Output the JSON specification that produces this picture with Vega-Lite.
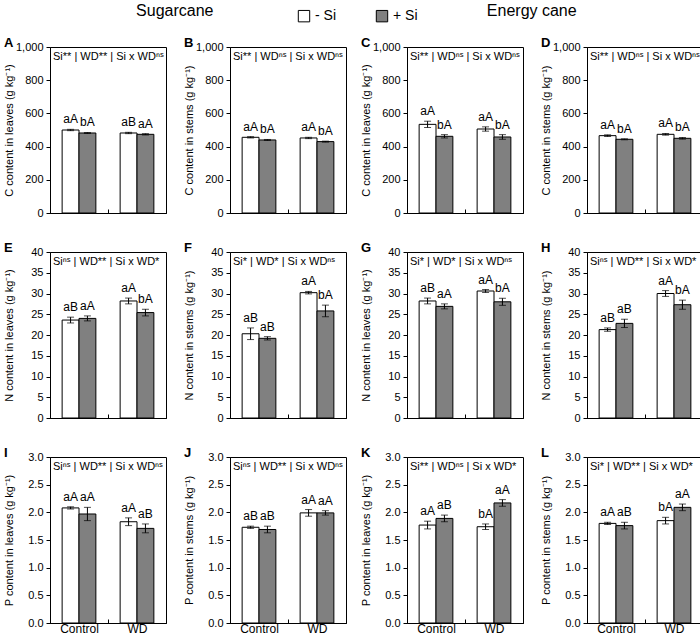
{
  "$schema": "https://vega.github.io/schema/vega-lite/v6.json",
  "padding": {"left": 2, "top": 2, "right": 0, "bottom": 0},
  "config": {
    "font": "Liberation Sans",
    "view": {"stroke": "black", "strokeWidth": 1},
    "scale": {"bandPaddingInner": 0, "bandPaddingOuter": 0, "bandWithNestedOffsetPaddingInner": 0, "bandWithNestedOffsetPaddingOuter": 0, "offsetBandPaddingInner": 0, "offsetBandPaddingOuter": 0.72},
    "axis": {"grid": false, "domainColor": "black", "tickColor": "black", "labelColor": "black", "titleColor": "black", "labelFontSize": 11, "titleFontSize": 11, "titleFontWeight": "normal", "labelOverlap": false},
    "axisY": {"tickSize": 4, "labelPadding": 3, "titleX": -36},
    "axisX": {"tickBand": "extent", "tickSize": -4, "labelAngle": 0, "labelFontSize": 12, "labelPadding": 4, "title": null},
    "legend": {"orient": "none", "legendX": 247, "legendY": -38, "direction": "horizontal", "symbolType": "square", "symbolSize": 130, "symbolStrokeColor": "black", "symbolStrokeWidth": 1, "labelFontSize": 14, "columnPadding": 38, "labelColor": "black"}
  },
  "datasets": {
    "bars": [
      {"panel": "A", "group": "Control", "si": "- Si", "mean": 500, "lo": 496, "hi": 504, "letter": "aA"},
      {"panel": "A", "group": "Control", "si": "+ Si", "mean": 482, "lo": 479, "hi": 485, "letter": "bA"},
      {"panel": "A", "group": "WD", "si": "- Si", "mean": 482, "lo": 478, "hi": 486, "letter": "aB"},
      {"panel": "A", "group": "WD", "si": "+ Si", "mean": 474, "lo": 470, "hi": 478, "letter": "aA"},
      {"panel": "B", "group": "Control", "si": "- Si", "mean": 456, "lo": 452, "hi": 460, "letter": "aA"},
      {"panel": "B", "group": "Control", "si": "+ Si", "mean": 440, "lo": 437, "hi": 443, "letter": "bA"},
      {"panel": "B", "group": "WD", "si": "- Si", "mean": 452, "lo": 448, "hi": 456, "letter": "aA"},
      {"panel": "B", "group": "WD", "si": "+ Si", "mean": 430, "lo": 427, "hi": 433, "letter": "bA"},
      {"panel": "C", "group": "Control", "si": "- Si", "mean": 534, "lo": 515, "hi": 553, "letter": "aA"},
      {"panel": "C", "group": "Control", "si": "+ Si", "mean": 462, "lo": 452, "hi": 472, "letter": "bA"},
      {"panel": "C", "group": "WD", "si": "- Si", "mean": 506, "lo": 493, "hi": 519, "letter": "aA"},
      {"panel": "C", "group": "WD", "si": "+ Si", "mean": 458, "lo": 444, "hi": 472, "letter": "bA"},
      {"panel": "D", "group": "Control", "si": "- Si", "mean": 466, "lo": 461, "hi": 471, "letter": "aA"},
      {"panel": "D", "group": "Control", "si": "+ Si", "mean": 444, "lo": 441, "hi": 447, "letter": "bA"},
      {"panel": "D", "group": "WD", "si": "- Si", "mean": 474, "lo": 469, "hi": 479, "letter": "aA"},
      {"panel": "D", "group": "WD", "si": "+ Si", "mean": 450, "lo": 445, "hi": 455, "letter": "bA"},
      {"panel": "E", "group": "Control", "si": "- Si", "mean": 23.6, "lo": 22.9, "hi": 24.3, "letter": "aB"},
      {"panel": "E", "group": "Control", "si": "+ Si", "mean": 24.0, "lo": 23.4, "hi": 24.6, "letter": "aA"},
      {"panel": "E", "group": "WD", "si": "- Si", "mean": 28.2, "lo": 27.5, "hi": 28.9, "letter": "aA"},
      {"panel": "E", "group": "WD", "si": "+ Si", "mean": 25.4, "lo": 24.6, "hi": 26.2, "letter": "bA"},
      {"panel": "F", "group": "Control", "si": "- Si", "mean": 20.3, "lo": 18.9, "hi": 21.7, "letter": "aB"},
      {"panel": "F", "group": "Control", "si": "+ Si", "mean": 19.2, "lo": 18.8, "hi": 19.6, "letter": "aB"},
      {"panel": "F", "group": "WD", "si": "- Si", "mean": 30.2, "lo": 29.9, "hi": 30.5, "letter": "aA"},
      {"panel": "F", "group": "WD", "si": "+ Si", "mean": 25.8, "lo": 24.4, "hi": 27.2, "letter": "bA"},
      {"panel": "G", "group": "Control", "si": "- Si", "mean": 28.2, "lo": 27.5, "hi": 28.9, "letter": "aB"},
      {"panel": "G", "group": "Control", "si": "+ Si", "mean": 26.9, "lo": 26.3, "hi": 27.5, "letter": "aA"},
      {"panel": "G", "group": "WD", "si": "- Si", "mean": 30.6, "lo": 30.25, "hi": 30.95, "letter": "aA"},
      {"panel": "G", "group": "WD", "si": "+ Si", "mean": 28.0, "lo": 27.15, "hi": 28.85, "letter": "bA"},
      {"panel": "H", "group": "Control", "si": "- Si", "mean": 21.3, "lo": 20.9, "hi": 21.7, "letter": "aB"},
      {"panel": "H", "group": "Control", "si": "+ Si", "mean": 22.8, "lo": 21.8, "hi": 23.8, "letter": "aB"},
      {"panel": "H", "group": "WD", "si": "- Si", "mean": 30.0, "lo": 29.3, "hi": 30.7, "letter": "aA"},
      {"panel": "H", "group": "WD", "si": "+ Si", "mean": 27.3, "lo": 26.2, "hi": 28.4, "letter": "bA"},
      {"panel": "I", "group": "Control", "si": "- Si", "mean": 2.08, "lo": 2.06, "hi": 2.10, "letter": "aA"},
      {"panel": "I", "group": "Control", "si": "+ Si", "mean": 1.97, "lo": 1.85, "hi": 2.09, "letter": "aA"},
      {"panel": "I", "group": "WD", "si": "- Si", "mean": 1.83, "lo": 1.76, "hi": 1.90, "letter": "aA"},
      {"panel": "I", "group": "WD", "si": "+ Si", "mean": 1.71, "lo": 1.63, "hi": 1.79, "letter": "aB"},
      {"panel": "J", "group": "Control", "si": "- Si", "mean": 1.73, "lo": 1.71, "hi": 1.75, "letter": "aB"},
      {"panel": "J", "group": "Control", "si": "+ Si", "mean": 1.69, "lo": 1.63, "hi": 1.75, "letter": "aB"},
      {"panel": "J", "group": "WD", "si": "- Si", "mean": 1.99, "lo": 1.93, "hi": 2.05, "letter": "aA"},
      {"panel": "J", "group": "WD", "si": "+ Si", "mean": 1.99, "lo": 1.95, "hi": 2.03, "letter": "aA"},
      {"panel": "K", "group": "Control", "si": "- Si", "mean": 1.77, "lo": 1.70, "hi": 1.84, "letter": "aA"},
      {"panel": "K", "group": "Control", "si": "+ Si", "mean": 1.89, "lo": 1.83, "hi": 1.95, "letter": "aB"},
      {"panel": "K", "group": "WD", "si": "- Si", "mean": 1.74, "lo": 1.69, "hi": 1.79, "letter": "bA"},
      {"panel": "K", "group": "WD", "si": "+ Si", "mean": 2.17, "lo": 2.11, "hi": 2.23, "letter": "aA"},
      {"panel": "L", "group": "Control", "si": "- Si", "mean": 1.80, "lo": 1.78, "hi": 1.82, "letter": "aA"},
      {"panel": "L", "group": "Control", "si": "+ Si", "mean": 1.76, "lo": 1.70, "hi": 1.82, "letter": "aB"},
      {"panel": "L", "group": "WD", "si": "- Si", "mean": 1.85, "lo": 1.79, "hi": 1.91, "letter": "bA"},
      {"panel": "L", "group": "WD", "si": "+ Si", "mean": 2.09, "lo": 2.03, "hi": 2.15, "letter": "aA"}
    ],
    "notes": [
      {"panel": "A", "note": "Si** | WD** | Si x WDⁿˢ"},
      {"panel": "B", "note": "Si** | WDⁿˢ | Si x WDⁿˢ"},
      {"panel": "C", "note": "Si** | WDⁿˢ | Si x WDⁿˢ"},
      {"panel": "D", "note": "Si** | WDⁿˢ | Si x WDⁿˢ"},
      {"panel": "E", "note": "Siⁿˢ | WD** | Si x WD*"},
      {"panel": "F", "note": "Si* | WD* | Si x WDⁿˢ"},
      {"panel": "G", "note": "Si* | WD* | Si x WDⁿˢ"},
      {"panel": "H", "note": "Siⁿˢ | WD** | Si x WD*"},
      {"panel": "I", "note": "Siⁿˢ | WD** | Si x WDⁿˢ"},
      {"panel": "J", "note": "Siⁿˢ | WD** | Si x WDⁿˢ"},
      {"panel": "K", "note": "Si** | WDⁿˢ | Si x WD*"},
      {"panel": "L", "note": "Si* | WD** | Si x WD*"}
    ]
  },
  "spacing": 12,
  "hconcat": [
    {
      "title": {"text": "Sugarcane", "fontSize": 16, "fontWeight": "normal", "anchor": "middle", "offset": 18},
      "columns": 2,
      "bounds": "flush",
      "spacing": {"row": 39, "column": 64},
      "concat": [
        {
          "title": {"text": "A", "anchor": "start", "frame": "group", "fontSize": 13, "fontWeight": "bold", "dx": -46, "offset": 0, "dy": 9},
          "width": 116, "height": 166,
          "layer": [
            {"data": {"name": "bars"}, "transform": [{"filter": "datum.panel === 'A'"}], "mark": {"type": "bar", "stroke": "black", "strokeWidth": 1},
             "encoding": {"x": {"field": "group", "type": "nominal", "sort": ["Control", "WD"], "axis": {"labels": false}}, "xOffset": {"field": "si", "type": "nominal", "sort": ["- Si", "+ Si"]},
              "y": {"field": "mean", "type": "quantitative", "scale": {"domain": [0, 1000]}, "title": "C content in leaves (g kg⁻¹)", "axis": {"values": [0, 200, 400, 600, 800, 1000], "format": ",d", "labelOverlap": false}},
              "fill": {"field": "si", "type": "nominal", "title": null, "scale": {"domain": ["- Si", "+ Si"], "range": ["white", "#808080"]}}}},
            {"data": {"name": "bars"}, "transform": [{"filter": "datum.panel === 'A'"}], "mark": {"type": "errorbar", "color": "black", "ticks": {"size": 7}},
             "encoding": {"x": {"field": "group", "type": "nominal", "sort": ["Control", "WD"]}, "xOffset": {"field": "si", "type": "nominal", "sort": ["- Si", "+ Si"]}, "y": {"field": "lo", "type": "quantitative", "title": "C content in leaves (g kg⁻¹)", "axis": {"values": [0, 200, 400, 600, 800, 1000], "format": ",d", "labelOverlap": false}}, "y2": {"field": "hi"}}},
            {"data": {"name": "bars"}, "transform": [{"filter": "datum.panel === 'A'"}], "mark": {"type": "text", "baseline": "bottom", "dy": -3, "fontSize": 12},
             "encoding": {"x": {"field": "group", "type": "nominal", "sort": ["Control", "WD"]}, "xOffset": {"field": "si", "type": "nominal", "sort": ["- Si", "+ Si"]}, "y": {"field": "hi", "type": "quantitative", "title": "C content in leaves (g kg⁻¹)", "axis": {"values": [0, 200, 400, 600, 800, 1000], "format": ",d", "labelOverlap": false}}, "text": {"field": "letter"}}},
            {"data": {"name": "notes"}, "transform": [{"filter": "datum.panel === 'A'"}], "mark": {"type": "text", "align": "left", "baseline": "top", "dx": 3, "dy": 4, "fontSize": 11},
             "encoding": {"x": {"datum": "Control", "type": "nominal", "bandPosition": 0}, "y": {"datum": 1000, "type": "quantitative", "title": "C content in leaves (g kg⁻¹)", "axis": {"values": [0, 200, 400, 600, 800, 1000], "format": ",d", "labelOverlap": false}}, "text": {"field": "note"}}}
          ]
        },
        {
          "title": {"text": "B", "anchor": "start", "frame": "group", "fontSize": 13, "fontWeight": "bold", "dx": -46, "offset": 0, "dy": 9},
          "width": 116, "height": 166,
          "layer": [
            {"data": {"name": "bars"}, "transform": [{"filter": "datum.panel === 'B'"}], "mark": {"type": "bar", "stroke": "black", "strokeWidth": 1},
             "encoding": {"x": {"field": "group", "type": "nominal", "sort": ["Control", "WD"], "axis": {"labels": false}}, "xOffset": {"field": "si", "type": "nominal", "sort": ["- Si", "+ Si"]},
              "y": {"field": "mean", "type": "quantitative", "scale": {"domain": [0, 1000]}, "title": "C content in stems (g kg⁻¹)", "axis": {"values": [0, 200, 400, 600, 800, 1000], "format": ",d", "labelOverlap": false}},
              "fill": {"field": "si", "type": "nominal", "title": null, "scale": {"domain": ["- Si", "+ Si"], "range": ["white", "#808080"]}}}},
            {"data": {"name": "bars"}, "transform": [{"filter": "datum.panel === 'B'"}], "mark": {"type": "errorbar", "color": "black", "ticks": {"size": 7}},
             "encoding": {"x": {"field": "group", "type": "nominal", "sort": ["Control", "WD"]}, "xOffset": {"field": "si", "type": "nominal", "sort": ["- Si", "+ Si"]}, "y": {"field": "lo", "type": "quantitative", "title": "C content in stems (g kg⁻¹)", "axis": {"values": [0, 200, 400, 600, 800, 1000], "format": ",d", "labelOverlap": false}}, "y2": {"field": "hi"}}},
            {"data": {"name": "bars"}, "transform": [{"filter": "datum.panel === 'B'"}], "mark": {"type": "text", "baseline": "bottom", "dy": -3, "fontSize": 12},
             "encoding": {"x": {"field": "group", "type": "nominal", "sort": ["Control", "WD"]}, "xOffset": {"field": "si", "type": "nominal", "sort": ["- Si", "+ Si"]}, "y": {"field": "hi", "type": "quantitative", "title": "C content in stems (g kg⁻¹)", "axis": {"values": [0, 200, 400, 600, 800, 1000], "format": ",d", "labelOverlap": false}}, "text": {"field": "letter"}}},
            {"data": {"name": "notes"}, "transform": [{"filter": "datum.panel === 'B'"}], "mark": {"type": "text", "align": "left", "baseline": "top", "dx": 3, "dy": 4, "fontSize": 11},
             "encoding": {"x": {"datum": "Control", "type": "nominal", "bandPosition": 0}, "y": {"datum": 1000, "type": "quantitative", "title": "C content in stems (g kg⁻¹)", "axis": {"values": [0, 200, 400, 600, 800, 1000], "format": ",d", "labelOverlap": false}}, "text": {"field": "note"}}}
          ]
        },
        {
          "title": {"text": "E", "anchor": "start", "frame": "group", "fontSize": 13, "fontWeight": "bold", "dx": -46, "offset": 0, "dy": 9},
          "width": 116, "height": 166,
          "layer": [
            {"data": {"name": "bars"}, "transform": [{"filter": "datum.panel === 'E'"}], "mark": {"type": "bar", "stroke": "black", "strokeWidth": 1},
             "encoding": {"x": {"field": "group", "type": "nominal", "sort": ["Control", "WD"], "axis": {"labels": false}}, "xOffset": {"field": "si", "type": "nominal", "sort": ["- Si", "+ Si"]},
              "y": {"field": "mean", "type": "quantitative", "scale": {"domain": [0, 40]}, "title": "N content in leaves (g kg⁻¹)", "axis": {"values": [0, 5, 10, 15, 20, 25, 30, 35, 40], "format": "d", "labelOverlap": false}},
              "fill": {"field": "si", "type": "nominal", "title": null, "scale": {"domain": ["- Si", "+ Si"], "range": ["white", "#808080"]}}}},
            {"data": {"name": "bars"}, "transform": [{"filter": "datum.panel === 'E'"}], "mark": {"type": "errorbar", "color": "black", "ticks": {"size": 7}},
             "encoding": {"x": {"field": "group", "type": "nominal", "sort": ["Control", "WD"]}, "xOffset": {"field": "si", "type": "nominal", "sort": ["- Si", "+ Si"]}, "y": {"field": "lo", "type": "quantitative", "title": "N content in leaves (g kg⁻¹)", "axis": {"values": [0, 5, 10, 15, 20, 25, 30, 35, 40], "format": "d", "labelOverlap": false}}, "y2": {"field": "hi"}}},
            {"data": {"name": "bars"}, "transform": [{"filter": "datum.panel === 'E'"}], "mark": {"type": "text", "baseline": "bottom", "dy": -3, "fontSize": 12},
             "encoding": {"x": {"field": "group", "type": "nominal", "sort": ["Control", "WD"]}, "xOffset": {"field": "si", "type": "nominal", "sort": ["- Si", "+ Si"]}, "y": {"field": "hi", "type": "quantitative", "title": "N content in leaves (g kg⁻¹)", "axis": {"values": [0, 5, 10, 15, 20, 25, 30, 35, 40], "format": "d", "labelOverlap": false}}, "text": {"field": "letter"}}},
            {"data": {"name": "notes"}, "transform": [{"filter": "datum.panel === 'E'"}], "mark": {"type": "text", "align": "left", "baseline": "top", "dx": 3, "dy": 4, "fontSize": 11},
             "encoding": {"x": {"datum": "Control", "type": "nominal", "bandPosition": 0}, "y": {"datum": 40, "type": "quantitative", "title": "N content in leaves (g kg⁻¹)", "axis": {"values": [0, 5, 10, 15, 20, 25, 30, 35, 40], "format": "d", "labelOverlap": false}}, "text": {"field": "note"}}}
          ]
        },
        {
          "title": {"text": "F", "anchor": "start", "frame": "group", "fontSize": 13, "fontWeight": "bold", "dx": -46, "offset": 0, "dy": 9},
          "width": 116, "height": 166,
          "layer": [
            {"data": {"name": "bars"}, "transform": [{"filter": "datum.panel === 'F'"}], "mark": {"type": "bar", "stroke": "black", "strokeWidth": 1},
             "encoding": {"x": {"field": "group", "type": "nominal", "sort": ["Control", "WD"], "axis": {"labels": false}}, "xOffset": {"field": "si", "type": "nominal", "sort": ["- Si", "+ Si"]},
              "y": {"field": "mean", "type": "quantitative", "scale": {"domain": [0, 40]}, "title": "N content in stems (g kg⁻¹)", "axis": {"values": [0, 5, 10, 15, 20, 25, 30, 35, 40], "format": "d", "labelOverlap": false}},
              "fill": {"field": "si", "type": "nominal", "title": null, "scale": {"domain": ["- Si", "+ Si"], "range": ["white", "#808080"]}}}},
            {"data": {"name": "bars"}, "transform": [{"filter": "datum.panel === 'F'"}], "mark": {"type": "errorbar", "color": "black", "ticks": {"size": 7}},
             "encoding": {"x": {"field": "group", "type": "nominal", "sort": ["Control", "WD"]}, "xOffset": {"field": "si", "type": "nominal", "sort": ["- Si", "+ Si"]}, "y": {"field": "lo", "type": "quantitative", "title": "N content in stems (g kg⁻¹)", "axis": {"values": [0, 5, 10, 15, 20, 25, 30, 35, 40], "format": "d", "labelOverlap": false}}, "y2": {"field": "hi"}}},
            {"data": {"name": "bars"}, "transform": [{"filter": "datum.panel === 'F'"}], "mark": {"type": "text", "baseline": "bottom", "dy": -3, "fontSize": 12},
             "encoding": {"x": {"field": "group", "type": "nominal", "sort": ["Control", "WD"]}, "xOffset": {"field": "si", "type": "nominal", "sort": ["- Si", "+ Si"]}, "y": {"field": "hi", "type": "quantitative", "title": "N content in stems (g kg⁻¹)", "axis": {"values": [0, 5, 10, 15, 20, 25, 30, 35, 40], "format": "d", "labelOverlap": false}}, "text": {"field": "letter"}}},
            {"data": {"name": "notes"}, "transform": [{"filter": "datum.panel === 'F'"}], "mark": {"type": "text", "align": "left", "baseline": "top", "dx": 3, "dy": 4, "fontSize": 11},
             "encoding": {"x": {"datum": "Control", "type": "nominal", "bandPosition": 0}, "y": {"datum": 40, "type": "quantitative", "title": "N content in stems (g kg⁻¹)", "axis": {"values": [0, 5, 10, 15, 20, 25, 30, 35, 40], "format": "d", "labelOverlap": false}}, "text": {"field": "note"}}}
          ]
        },
        {
          "title": {"text": "I", "anchor": "start", "frame": "group", "fontSize": 13, "fontWeight": "bold", "dx": -46, "offset": 0, "dy": 9},
          "width": 116, "height": 166,
          "layer": [
            {"data": {"name": "bars"}, "transform": [{"filter": "datum.panel === 'I'"}], "mark": {"type": "bar", "stroke": "black", "strokeWidth": 1},
             "encoding": {"x": {"field": "group", "type": "nominal", "sort": ["Control", "WD"]}, "xOffset": {"field": "si", "type": "nominal", "sort": ["- Si", "+ Si"]},
              "y": {"field": "mean", "type": "quantitative", "scale": {"domain": [0, 3]}, "title": "P content in leaves (g kg⁻¹)", "axis": {"values": [0, 0.5, 1, 1.5, 2, 2.5, 3], "format": ".1f", "labelOverlap": false}},
              "fill": {"field": "si", "type": "nominal", "title": null, "scale": {"domain": ["- Si", "+ Si"], "range": ["white", "#808080"]}}}},
            {"data": {"name": "bars"}, "transform": [{"filter": "datum.panel === 'I'"}], "mark": {"type": "errorbar", "color": "black", "ticks": {"size": 7}},
             "encoding": {"x": {"field": "group", "type": "nominal", "sort": ["Control", "WD"]}, "xOffset": {"field": "si", "type": "nominal", "sort": ["- Si", "+ Si"]}, "y": {"field": "lo", "type": "quantitative", "title": "P content in leaves (g kg⁻¹)", "axis": {"values": [0, 0.5, 1, 1.5, 2, 2.5, 3], "format": ".1f", "labelOverlap": false}}, "y2": {"field": "hi"}}},
            {"data": {"name": "bars"}, "transform": [{"filter": "datum.panel === 'I'"}], "mark": {"type": "text", "baseline": "bottom", "dy": -3, "fontSize": 12},
             "encoding": {"x": {"field": "group", "type": "nominal", "sort": ["Control", "WD"]}, "xOffset": {"field": "si", "type": "nominal", "sort": ["- Si", "+ Si"]}, "y": {"field": "hi", "type": "quantitative", "title": "P content in leaves (g kg⁻¹)", "axis": {"values": [0, 0.5, 1, 1.5, 2, 2.5, 3], "format": ".1f", "labelOverlap": false}}, "text": {"field": "letter"}}},
            {"data": {"name": "notes"}, "transform": [{"filter": "datum.panel === 'I'"}], "mark": {"type": "text", "align": "left", "baseline": "top", "dx": 3, "dy": 4, "fontSize": 11},
             "encoding": {"x": {"datum": "Control", "type": "nominal", "bandPosition": 0}, "y": {"datum": 3, "type": "quantitative", "title": "P content in leaves (g kg⁻¹)", "axis": {"values": [0, 0.5, 1, 1.5, 2, 2.5, 3], "format": ".1f", "labelOverlap": false}}, "text": {"field": "note"}}}
          ]
        },
        {
          "title": {"text": "J", "anchor": "start", "frame": "group", "fontSize": 13, "fontWeight": "bold", "dx": -46, "offset": 0, "dy": 9},
          "width": 116, "height": 166,
          "layer": [
            {"data": {"name": "bars"}, "transform": [{"filter": "datum.panel === 'J'"}], "mark": {"type": "bar", "stroke": "black", "strokeWidth": 1},
             "encoding": {"x": {"field": "group", "type": "nominal", "sort": ["Control", "WD"]}, "xOffset": {"field": "si", "type": "nominal", "sort": ["- Si", "+ Si"]},
              "y": {"field": "mean", "type": "quantitative", "scale": {"domain": [0, 3]}, "title": "P content in stems (g kg⁻¹)", "axis": {"values": [0, 0.5, 1, 1.5, 2, 2.5, 3], "format": ".1f", "labelOverlap": false}},
              "fill": {"field": "si", "type": "nominal", "title": null, "scale": {"domain": ["- Si", "+ Si"], "range": ["white", "#808080"]}}}},
            {"data": {"name": "bars"}, "transform": [{"filter": "datum.panel === 'J'"}], "mark": {"type": "errorbar", "color": "black", "ticks": {"size": 7}},
             "encoding": {"x": {"field": "group", "type": "nominal", "sort": ["Control", "WD"]}, "xOffset": {"field": "si", "type": "nominal", "sort": ["- Si", "+ Si"]}, "y": {"field": "lo", "type": "quantitative", "title": "P content in stems (g kg⁻¹)", "axis": {"values": [0, 0.5, 1, 1.5, 2, 2.5, 3], "format": ".1f", "labelOverlap": false}}, "y2": {"field": "hi"}}},
            {"data": {"name": "bars"}, "transform": [{"filter": "datum.panel === 'J'"}], "mark": {"type": "text", "baseline": "bottom", "dy": -3, "fontSize": 12},
             "encoding": {"x": {"field": "group", "type": "nominal", "sort": ["Control", "WD"]}, "xOffset": {"field": "si", "type": "nominal", "sort": ["- Si", "+ Si"]}, "y": {"field": "hi", "type": "quantitative", "title": "P content in stems (g kg⁻¹)", "axis": {"values": [0, 0.5, 1, 1.5, 2, 2.5, 3], "format": ".1f", "labelOverlap": false}}, "text": {"field": "letter"}}},
            {"data": {"name": "notes"}, "transform": [{"filter": "datum.panel === 'J'"}], "mark": {"type": "text", "align": "left", "baseline": "top", "dx": 3, "dy": 4, "fontSize": 11},
             "encoding": {"x": {"datum": "Control", "type": "nominal", "bandPosition": 0}, "y": {"datum": 3, "type": "quantitative", "title": "P content in stems (g kg⁻¹)", "axis": {"values": [0, 0.5, 1, 1.5, 2, 2.5, 3], "format": ".1f", "labelOverlap": false}}, "text": {"field": "note"}}}
          ]
        }
      ]
    },
    {
      "title": {"text": "Energy cane", "fontSize": 16, "fontWeight": "normal", "anchor": "middle", "offset": 18},
      "columns": 2,
      "bounds": "flush",
      "spacing": {"row": 39, "column": 64},
      "concat": [
        {
          "title": {"text": "C", "anchor": "start", "frame": "group", "fontSize": 13, "fontWeight": "bold", "dx": -46, "offset": 0, "dy": 9},
          "width": 116, "height": 166,
          "layer": [
            {"data": {"name": "bars"}, "transform": [{"filter": "datum.panel === 'C'"}], "mark": {"type": "bar", "stroke": "black", "strokeWidth": 1},
             "encoding": {"x": {"field": "group", "type": "nominal", "sort": ["Control", "WD"], "axis": {"labels": false}}, "xOffset": {"field": "si", "type": "nominal", "sort": ["- Si", "+ Si"]},
              "y": {"field": "mean", "type": "quantitative", "scale": {"domain": [0, 1000]}, "title": "C content in leaves (g kg⁻¹)", "axis": {"values": [0, 200, 400, 600, 800, 1000], "format": ",d", "labelOverlap": false}},
              "fill": {"field": "si", "type": "nominal", "title": null, "scale": {"domain": ["- Si", "+ Si"], "range": ["white", "#808080"]}}}},
            {"data": {"name": "bars"}, "transform": [{"filter": "datum.panel === 'C'"}], "mark": {"type": "errorbar", "color": "black", "ticks": {"size": 7}},
             "encoding": {"x": {"field": "group", "type": "nominal", "sort": ["Control", "WD"]}, "xOffset": {"field": "si", "type": "nominal", "sort": ["- Si", "+ Si"]}, "y": {"field": "lo", "type": "quantitative", "title": "C content in leaves (g kg⁻¹)", "axis": {"values": [0, 200, 400, 600, 800, 1000], "format": ",d", "labelOverlap": false}}, "y2": {"field": "hi"}}},
            {"data": {"name": "bars"}, "transform": [{"filter": "datum.panel === 'C'"}], "mark": {"type": "text", "baseline": "bottom", "dy": -3, "fontSize": 12},
             "encoding": {"x": {"field": "group", "type": "nominal", "sort": ["Control", "WD"]}, "xOffset": {"field": "si", "type": "nominal", "sort": ["- Si", "+ Si"]}, "y": {"field": "hi", "type": "quantitative", "title": "C content in leaves (g kg⁻¹)", "axis": {"values": [0, 200, 400, 600, 800, 1000], "format": ",d", "labelOverlap": false}}, "text": {"field": "letter"}}},
            {"data": {"name": "notes"}, "transform": [{"filter": "datum.panel === 'C'"}], "mark": {"type": "text", "align": "left", "baseline": "top", "dx": 3, "dy": 4, "fontSize": 11},
             "encoding": {"x": {"datum": "Control", "type": "nominal", "bandPosition": 0}, "y": {"datum": 1000, "type": "quantitative", "title": "C content in leaves (g kg⁻¹)", "axis": {"values": [0, 200, 400, 600, 800, 1000], "format": ",d", "labelOverlap": false}}, "text": {"field": "note"}}}
          ]
        },
        {
          "title": {"text": "D", "anchor": "start", "frame": "group", "fontSize": 13, "fontWeight": "bold", "dx": -46, "offset": 0, "dy": 9},
          "width": 116, "height": 166,
          "layer": [
            {"data": {"name": "bars"}, "transform": [{"filter": "datum.panel === 'D'"}], "mark": {"type": "bar", "stroke": "black", "strokeWidth": 1},
             "encoding": {"x": {"field": "group", "type": "nominal", "sort": ["Control", "WD"], "axis": {"labels": false}}, "xOffset": {"field": "si", "type": "nominal", "sort": ["- Si", "+ Si"]},
              "y": {"field": "mean", "type": "quantitative", "scale": {"domain": [0, 1000]}, "title": "C content in stems (g kg⁻¹)", "axis": {"values": [0, 200, 400, 600, 800, 1000], "format": ",d", "labelOverlap": false}},
              "fill": {"field": "si", "type": "nominal", "title": null, "scale": {"domain": ["- Si", "+ Si"], "range": ["white", "#808080"]}}}},
            {"data": {"name": "bars"}, "transform": [{"filter": "datum.panel === 'D'"}], "mark": {"type": "errorbar", "color": "black", "ticks": {"size": 7}},
             "encoding": {"x": {"field": "group", "type": "nominal", "sort": ["Control", "WD"]}, "xOffset": {"field": "si", "type": "nominal", "sort": ["- Si", "+ Si"]}, "y": {"field": "lo", "type": "quantitative", "title": "C content in stems (g kg⁻¹)", "axis": {"values": [0, 200, 400, 600, 800, 1000], "format": ",d", "labelOverlap": false}}, "y2": {"field": "hi"}}},
            {"data": {"name": "bars"}, "transform": [{"filter": "datum.panel === 'D'"}], "mark": {"type": "text", "baseline": "bottom", "dy": -3, "fontSize": 12},
             "encoding": {"x": {"field": "group", "type": "nominal", "sort": ["Control", "WD"]}, "xOffset": {"field": "si", "type": "nominal", "sort": ["- Si", "+ Si"]}, "y": {"field": "hi", "type": "quantitative", "title": "C content in stems (g kg⁻¹)", "axis": {"values": [0, 200, 400, 600, 800, 1000], "format": ",d", "labelOverlap": false}}, "text": {"field": "letter"}}},
            {"data": {"name": "notes"}, "transform": [{"filter": "datum.panel === 'D'"}], "mark": {"type": "text", "align": "left", "baseline": "top", "dx": 3, "dy": 4, "fontSize": 11},
             "encoding": {"x": {"datum": "Control", "type": "nominal", "bandPosition": 0}, "y": {"datum": 1000, "type": "quantitative", "title": "C content in stems (g kg⁻¹)", "axis": {"values": [0, 200, 400, 600, 800, 1000], "format": ",d", "labelOverlap": false}}, "text": {"field": "note"}}}
          ]
        },
        {
          "title": {"text": "G", "anchor": "start", "frame": "group", "fontSize": 13, "fontWeight": "bold", "dx": -46, "offset": 0, "dy": 9},
          "width": 116, "height": 166,
          "layer": [
            {"data": {"name": "bars"}, "transform": [{"filter": "datum.panel === 'G'"}], "mark": {"type": "bar", "stroke": "black", "strokeWidth": 1},
             "encoding": {"x": {"field": "group", "type": "nominal", "sort": ["Control", "WD"], "axis": {"labels": false}}, "xOffset": {"field": "si", "type": "nominal", "sort": ["- Si", "+ Si"]},
              "y": {"field": "mean", "type": "quantitative", "scale": {"domain": [0, 40]}, "title": "N content in leaves (g kg⁻¹)", "axis": {"values": [0, 5, 10, 15, 20, 25, 30, 35, 40], "format": "d", "labelOverlap": false}},
              "fill": {"field": "si", "type": "nominal", "title": null, "scale": {"domain": ["- Si", "+ Si"], "range": ["white", "#808080"]}}}},
            {"data": {"name": "bars"}, "transform": [{"filter": "datum.panel === 'G'"}], "mark": {"type": "errorbar", "color": "black", "ticks": {"size": 7}},
             "encoding": {"x": {"field": "group", "type": "nominal", "sort": ["Control", "WD"]}, "xOffset": {"field": "si", "type": "nominal", "sort": ["- Si", "+ Si"]}, "y": {"field": "lo", "type": "quantitative", "title": "N content in leaves (g kg⁻¹)", "axis": {"values": [0, 5, 10, 15, 20, 25, 30, 35, 40], "format": "d", "labelOverlap": false}}, "y2": {"field": "hi"}}},
            {"data": {"name": "bars"}, "transform": [{"filter": "datum.panel === 'G'"}], "mark": {"type": "text", "baseline": "bottom", "dy": -3, "fontSize": 12},
             "encoding": {"x": {"field": "group", "type": "nominal", "sort": ["Control", "WD"]}, "xOffset": {"field": "si", "type": "nominal", "sort": ["- Si", "+ Si"]}, "y": {"field": "hi", "type": "quantitative", "title": "N content in leaves (g kg⁻¹)", "axis": {"values": [0, 5, 10, 15, 20, 25, 30, 35, 40], "format": "d", "labelOverlap": false}}, "text": {"field": "letter"}}},
            {"data": {"name": "notes"}, "transform": [{"filter": "datum.panel === 'G'"}], "mark": {"type": "text", "align": "left", "baseline": "top", "dx": 3, "dy": 4, "fontSize": 11},
             "encoding": {"x": {"datum": "Control", "type": "nominal", "bandPosition": 0}, "y": {"datum": 40, "type": "quantitative", "title": "N content in leaves (g kg⁻¹)", "axis": {"values": [0, 5, 10, 15, 20, 25, 30, 35, 40], "format": "d", "labelOverlap": false}}, "text": {"field": "note"}}}
          ]
        },
        {
          "title": {"text": "H", "anchor": "start", "frame": "group", "fontSize": 13, "fontWeight": "bold", "dx": -46, "offset": 0, "dy": 9},
          "width": 116, "height": 166,
          "layer": [
            {"data": {"name": "bars"}, "transform": [{"filter": "datum.panel === 'H'"}], "mark": {"type": "bar", "stroke": "black", "strokeWidth": 1},
             "encoding": {"x": {"field": "group", "type": "nominal", "sort": ["Control", "WD"], "axis": {"labels": false}}, "xOffset": {"field": "si", "type": "nominal", "sort": ["- Si", "+ Si"]},
              "y": {"field": "mean", "type": "quantitative", "scale": {"domain": [0, 40]}, "title": "N content in stems (g kg⁻¹)", "axis": {"values": [0, 5, 10, 15, 20, 25, 30, 35, 40], "format": "d", "labelOverlap": false}},
              "fill": {"field": "si", "type": "nominal", "title": null, "scale": {"domain": ["- Si", "+ Si"], "range": ["white", "#808080"]}}}},
            {"data": {"name": "bars"}, "transform": [{"filter": "datum.panel === 'H'"}], "mark": {"type": "errorbar", "color": "black", "ticks": {"size": 7}},
             "encoding": {"x": {"field": "group", "type": "nominal", "sort": ["Control", "WD"]}, "xOffset": {"field": "si", "type": "nominal", "sort": ["- Si", "+ Si"]}, "y": {"field": "lo", "type": "quantitative", "title": "N content in stems (g kg⁻¹)", "axis": {"values": [0, 5, 10, 15, 20, 25, 30, 35, 40], "format": "d", "labelOverlap": false}}, "y2": {"field": "hi"}}},
            {"data": {"name": "bars"}, "transform": [{"filter": "datum.panel === 'H'"}], "mark": {"type": "text", "baseline": "bottom", "dy": -3, "fontSize": 12},
             "encoding": {"x": {"field": "group", "type": "nominal", "sort": ["Control", "WD"]}, "xOffset": {"field": "si", "type": "nominal", "sort": ["- Si", "+ Si"]}, "y": {"field": "hi", "type": "quantitative", "title": "N content in stems (g kg⁻¹)", "axis": {"values": [0, 5, 10, 15, 20, 25, 30, 35, 40], "format": "d", "labelOverlap": false}}, "text": {"field": "letter"}}},
            {"data": {"name": "notes"}, "transform": [{"filter": "datum.panel === 'H'"}], "mark": {"type": "text", "align": "left", "baseline": "top", "dx": 3, "dy": 4, "fontSize": 11},
             "encoding": {"x": {"datum": "Control", "type": "nominal", "bandPosition": 0}, "y": {"datum": 40, "type": "quantitative", "title": "N content in stems (g kg⁻¹)", "axis": {"values": [0, 5, 10, 15, 20, 25, 30, 35, 40], "format": "d", "labelOverlap": false}}, "text": {"field": "note"}}}
          ]
        },
        {
          "title": {"text": "K", "anchor": "start", "frame": "group", "fontSize": 13, "fontWeight": "bold", "dx": -46, "offset": 0, "dy": 9},
          "width": 116, "height": 166,
          "layer": [
            {"data": {"name": "bars"}, "transform": [{"filter": "datum.panel === 'K'"}], "mark": {"type": "bar", "stroke": "black", "strokeWidth": 1},
             "encoding": {"x": {"field": "group", "type": "nominal", "sort": ["Control", "WD"]}, "xOffset": {"field": "si", "type": "nominal", "sort": ["- Si", "+ Si"]},
              "y": {"field": "mean", "type": "quantitative", "scale": {"domain": [0, 3]}, "title": "P content in leaves (g kg⁻¹)", "axis": {"values": [0, 0.5, 1, 1.5, 2, 2.5, 3], "format": ".1f", "labelOverlap": false}},
              "fill": {"field": "si", "type": "nominal", "title": null, "scale": {"domain": ["- Si", "+ Si"], "range": ["white", "#808080"]}}}},
            {"data": {"name": "bars"}, "transform": [{"filter": "datum.panel === 'K'"}], "mark": {"type": "errorbar", "color": "black", "ticks": {"size": 7}},
             "encoding": {"x": {"field": "group", "type": "nominal", "sort": ["Control", "WD"]}, "xOffset": {"field": "si", "type": "nominal", "sort": ["- Si", "+ Si"]}, "y": {"field": "lo", "type": "quantitative", "title": "P content in leaves (g kg⁻¹)", "axis": {"values": [0, 0.5, 1, 1.5, 2, 2.5, 3], "format": ".1f", "labelOverlap": false}}, "y2": {"field": "hi"}}},
            {"data": {"name": "bars"}, "transform": [{"filter": "datum.panel === 'K'"}], "mark": {"type": "text", "baseline": "bottom", "dy": -3, "fontSize": 12},
             "encoding": {"x": {"field": "group", "type": "nominal", "sort": ["Control", "WD"]}, "xOffset": {"field": "si", "type": "nominal", "sort": ["- Si", "+ Si"]}, "y": {"field": "hi", "type": "quantitative", "title": "P content in leaves (g kg⁻¹)", "axis": {"values": [0, 0.5, 1, 1.5, 2, 2.5, 3], "format": ".1f", "labelOverlap": false}}, "text": {"field": "letter"}}},
            {"data": {"name": "notes"}, "transform": [{"filter": "datum.panel === 'K'"}], "mark": {"type": "text", "align": "left", "baseline": "top", "dx": 3, "dy": 4, "fontSize": 11},
             "encoding": {"x": {"datum": "Control", "type": "nominal", "bandPosition": 0}, "y": {"datum": 3, "type": "quantitative", "title": "P content in leaves (g kg⁻¹)", "axis": {"values": [0, 0.5, 1, 1.5, 2, 2.5, 3], "format": ".1f", "labelOverlap": false}}, "text": {"field": "note"}}}
          ]
        },
        {
          "title": {"text": "L", "anchor": "start", "frame": "group", "fontSize": 13, "fontWeight": "bold", "dx": -46, "offset": 0, "dy": 9},
          "width": 116, "height": 166,
          "layer": [
            {"data": {"name": "bars"}, "transform": [{"filter": "datum.panel === 'L'"}], "mark": {"type": "bar", "stroke": "black", "strokeWidth": 1},
             "encoding": {"x": {"field": "group", "type": "nominal", "sort": ["Control", "WD"]}, "xOffset": {"field": "si", "type": "nominal", "sort": ["- Si", "+ Si"]},
              "y": {"field": "mean", "type": "quantitative", "scale": {"domain": [0, 3]}, "title": "P content in stems (g kg⁻¹)", "axis": {"values": [0, 0.5, 1, 1.5, 2, 2.5, 3], "format": ".1f", "labelOverlap": false}},
              "fill": {"field": "si", "type": "nominal", "title": null, "scale": {"domain": ["- Si", "+ Si"], "range": ["white", "#808080"]}}}},
            {"data": {"name": "bars"}, "transform": [{"filter": "datum.panel === 'L'"}], "mark": {"type": "errorbar", "color": "black", "ticks": {"size": 7}},
             "encoding": {"x": {"field": "group", "type": "nominal", "sort": ["Control", "WD"]}, "xOffset": {"field": "si", "type": "nominal", "sort": ["- Si", "+ Si"]}, "y": {"field": "lo", "type": "quantitative", "title": "P content in stems (g kg⁻¹)", "axis": {"values": [0, 0.5, 1, 1.5, 2, 2.5, 3], "format": ".1f", "labelOverlap": false}}, "y2": {"field": "hi"}}},
            {"data": {"name": "bars"}, "transform": [{"filter": "datum.panel === 'L'"}], "mark": {"type": "text", "baseline": "bottom", "dy": -3, "fontSize": 12},
             "encoding": {"x": {"field": "group", "type": "nominal", "sort": ["Control", "WD"]}, "xOffset": {"field": "si", "type": "nominal", "sort": ["- Si", "+ Si"]}, "y": {"field": "hi", "type": "quantitative", "title": "P content in stems (g kg⁻¹)", "axis": {"values": [0, 0.5, 1, 1.5, 2, 2.5, 3], "format": ".1f", "labelOverlap": false}}, "text": {"field": "letter"}}},
            {"data": {"name": "notes"}, "transform": [{"filter": "datum.panel === 'L'"}], "mark": {"type": "text", "align": "left", "baseline": "top", "dx": 3, "dy": 4, "fontSize": 11},
             "encoding": {"x": {"datum": "Control", "type": "nominal", "bandPosition": 0}, "y": {"datum": 3, "type": "quantitative", "title": "P content in stems (g kg⁻¹)", "axis": {"values": [0, 0.5, 1, 1.5, 2, 2.5, 3], "format": ".1f", "labelOverlap": false}}, "text": {"field": "note"}}}
          ]
        }
      ]
    }
  ]
}
